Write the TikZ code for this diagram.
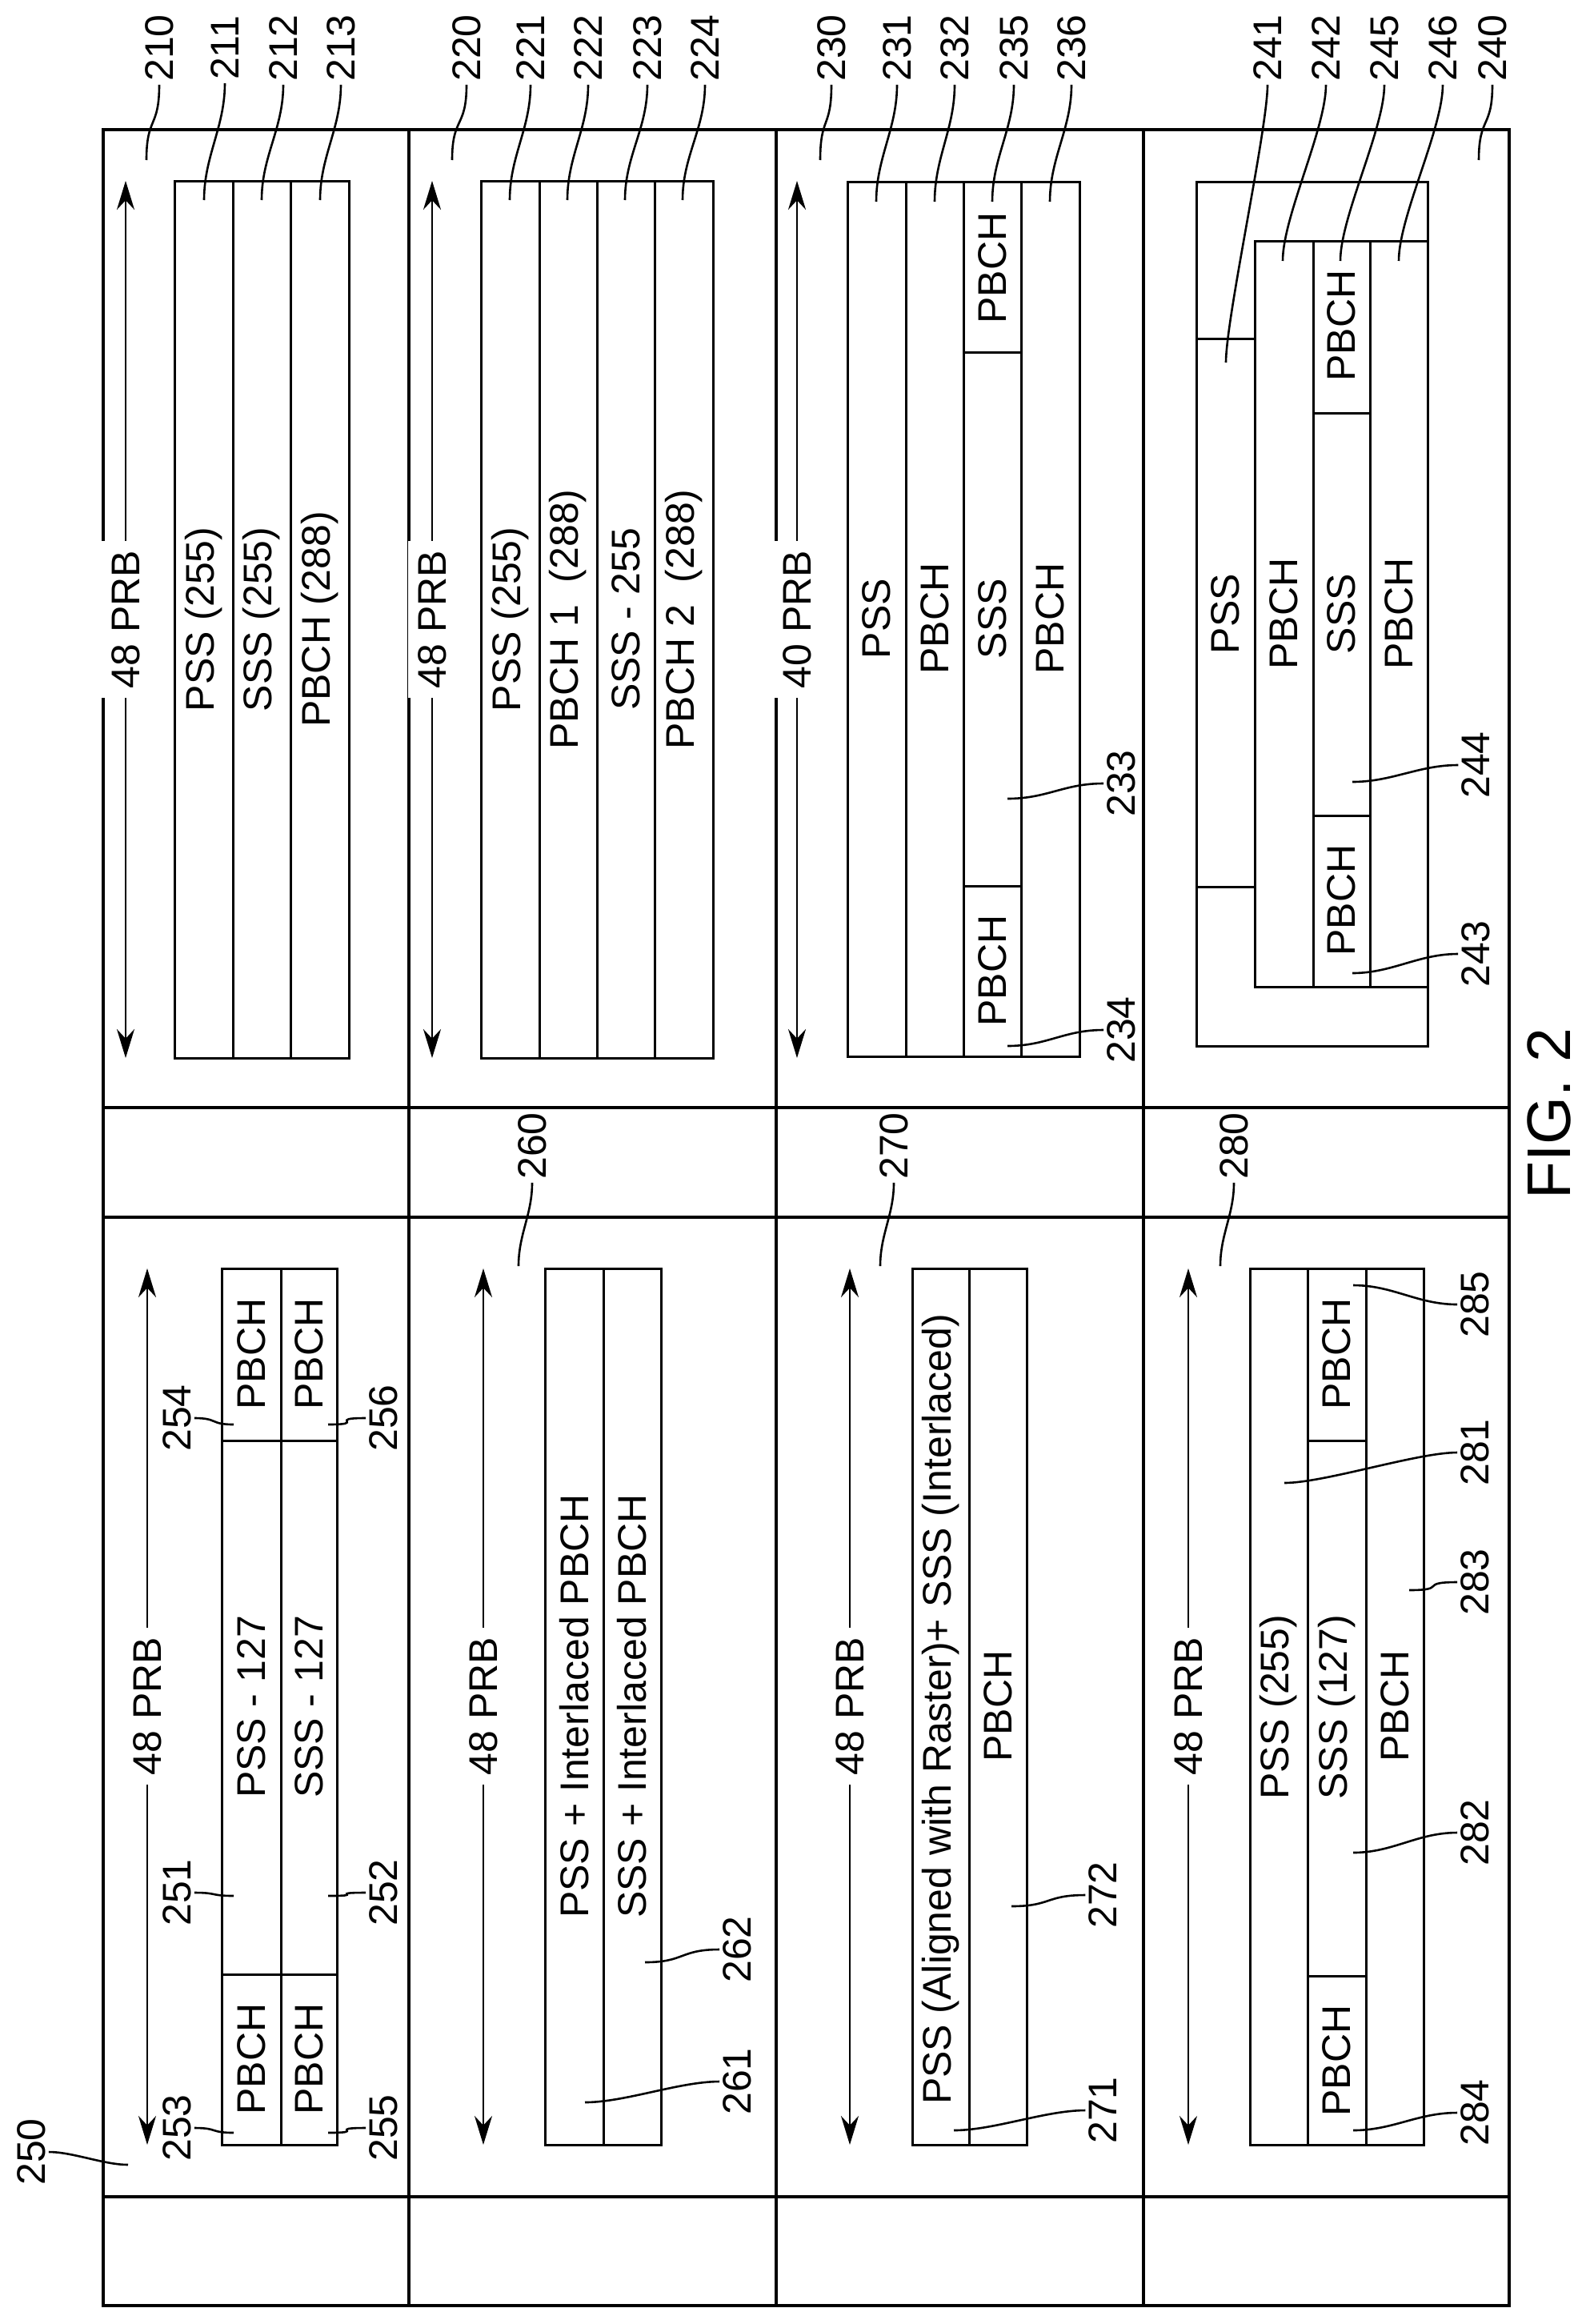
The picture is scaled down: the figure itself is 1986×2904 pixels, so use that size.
\documentclass[tikz,border=0pt]{standalone}
\usepackage{fontspec}
\setmainfont{Liberation Sans}
\usetikzlibrary{arrows.meta}

\begin{document}
\begin{tikzpicture}[x=1pt, y=-1pt,
		frame/.style={line width=4pt},
		cell/.style={line width=3pt},
		lead/.style={line width=2.6pt},
		prb/.style={line width=2.6pt, {Stealth[length=36pt,width=22pt]}-{Stealth[length=36pt,width=22pt]}},
		txt/.style={rotate=90, inner sep=1pt, font=\fontsize{50}{56}\selectfont},
		bw/.style={txt, fill=white, inner sep=12pt},
		num/.style={rotate=90, inner sep=4pt, font=\fontsize{50}{56}\selectfont}]
	\useasboundingbox (0,0) rectangle (1986,2904);

	% outer frame
	\draw[frame] (129,162) rectangle (1886,2881);
	\foreach \x in {511, 970, 1429}
		\draw[frame] (\x,162) -- (\x,2881);
	\foreach \y in {1384, 1521, 2745}
		\draw[frame] (129,\y) -- (1886,\y);

	% upper half: arrows
	\foreach \x/\w/\n in {157/48/a, 540/48/b, 996/40/c} {
		\draw[prb] (\x,1322) -- (\x,226);
		\node[bw] (prb\n) at (\x,774) {\w\ PRB};
	}

	% 210
	\draw[cell] (218,226) rectangle (436,1322);
	\draw[cell] (291,226) -- (291,1322) (363,226) -- (363,1322);
	\node[txt] (t211) at (254.5,774) {PSS (255)};
	\node[txt] (t212) at (327,774) {SSS (255)};
	\node[txt] (t213) at (399.5,774) {PBCH (288)};

	% 220
	\draw[cell] (601,226) rectangle (891,1322);
	\foreach \x in {674, 746, 818}
		\draw[cell] (\x,226) -- (\x,1322);
	\node[txt] (t221) at (637.5,774) {PSS (255)};
	\node[txt] (t222) at (710,774) {PBCH 1\ \ (288)};
	\node[txt] (t223) at (782,774) {SSS - 255};
	\node[txt] (t224) at (854.5,774) {PBCH 2\ \ (288)};

	% 230
	\draw[cell] (1059,227) rectangle (1349,1320);
	\foreach \x in {1132, 1204, 1276}
		\draw[cell] (\x,227) -- (\x,1320);
	\draw[cell] (1204,440) -- (1276,440) (1204,1107) -- (1276,1107);
	\node[txt] (t231) at (1095.5,773) {PSS};
	\node[txt] (t232) at (1168,773) {PBCH};
	\node[txt] (t233) at (1240,773) {SSS};
	\node[txt] (t236) at (1312,773) {PBCH};
	\node[txt] (t235) at (1240,335) {PBCH};
	\node[txt] (t234) at (1240,1213) {PBCH};

	% 240
	\draw[cell] (1495,227) rectangle (1784,1307);
	\draw[cell] (1568,301) rectangle (1784,1233);
	\draw[cell] (1641,301) -- (1641,1233) (1712,301) -- (1712,1233);
	\draw[cell] (1495,423) -- (1568,423) (1495,1108) -- (1568,1108);
	\draw[cell] (1641,516) -- (1712,516) (1641,1019) -- (1712,1019);
	\node[txt] (t241) at (1531.5,767) {PSS};
	\node[txt] (t242) at (1604.5,767) {PBCH};
	\node[txt] (t244) at (1676.5,767) {SSS};
	\node[txt] (t246) at (1748,767) {PBCH};
	\node[txt] (t245) at (1676.5,407) {PBCH};
	\node[txt] (t243) at (1676.5,1125) {PBCH};

	% lower half: arrows
	\foreach \x/\n in {184/a, 604/b, 1062/c, 1485/d} {
		\draw[prb] (\x,2680) -- (\x,1585);
		\node[bw] (prbl\n) at (\x,2132) {48 PRB};
	}

	% 250
	\draw[cell] (277,1585) rectangle (421,2680);
	\draw[cell] (351,1585) -- (351,2680);
	\draw[cell] (277,1800) -- (421,1800) (277,2467) -- (421,2467);
	\foreach \x in {314, 386} {
		\node[txt] at (\x,1692) {PBCH};
		\node[txt] at (\x,2573) {PBCH};
	}
	\node[txt] (t251) at (314,2133) {PSS - 127};
	\node[txt] (t252) at (386,2133) {SSS - 127};

	% 260
	\draw[cell] (681,1585) rectangle (826,2680);
	\draw[cell] (754,1585) -- (754,2680);
	\node[txt] (t261) at (717.5,2132) {PSS + Interlaced PBCH};
	\node[txt] (t262) at (790,2132) {SSS + Interlaced PBCH};

	% 270
	\draw[cell] (1140,1585) rectangle (1283,2680);
	\draw[cell] (1211,1585) -- (1211,2680);
	\node[txt] (t271) at (1175.5,2136) {PSS (Aligned with Raster)+ SSS (Interlaced)};
	\node[txt] (t272) at (1247,2132) {PBCH};

	% 280
	\draw[cell] (1562,1585) rectangle (1779,2680);
	\draw[cell] (1634,1585) -- (1634,2680) (1707,1585) -- (1707,2680);
	\draw[cell] (1634,1800) -- (1707,1800) (1634,2469) -- (1707,2469);
	\node[txt] (t281) at (1598,2133) {PSS (255)};
	\node[txt] (t282) at (1670.5,2133) {SSS (127)};
	\node[txt] (t283) at (1743,2132) {PBCH};
	\node[txt] (t285) at (1670.5,1692) {PBCH};
	\node[txt] (t284) at (1670.5,2575) {PBCH};

	% reference numerals along the top
	\foreach \n/\lx/\ex/\ey in {210/199/183/200, 211/281/255/250, 212/354/327/250,
			213/426/400/250, 220/583/565/200, 221/663/637/250, 222/735/709/250,
			223/809/781/250, 224/881/853/250, 230/1039/1025/200, 231/1121/1095/252,
			232/1193/1168/252, 235/1267/1240/252, 236/1339/1312/252, 241/1584/1532/453,
			242/1657/1603/326, 245/1730/1675/326, 246/1803/1748/326, 240/1865/1848/200} {
		\node[num] (l\n) at (\lx,60) {\n};
		\coordinate (e\n) at (\ex,\ey);
		\draw[lead] (l\n.west) .. controls +(0,55) and +(0,-55) .. (e\n);
	}

	% reference numerals in the middle band
	\foreach \n/\lx/\ex in {260/665/648, 270/1117/1100, 280/1542/1525} {
		\node[num] (l\n) at (\lx,1432) {\n};
		\coordinate (e\n) at (\ex,1582);
		\draw[lead] (l\n.west) .. controls +(0,40) and +(0,-40) .. (e\n);
	}

	% reference numerals to the right of their boxes
	\foreach \n/\lx/\ly/\ex/\ey in {233/1401/979/1259/998, 234/1401/1287/1259/1307,
			244/1844/956/1690/977, 243/1844/1192/1690/1216, 256/479/1772/410/1780,
			252/479/2365/410/2369, 255/479/2659/410/2665, 262/921/2436/806/2452,
			261/921/2601/731/2627, 285/1843/1630/1691/1606, 281/1843/1815/1605/1853,
			283/1843/1977/1761/1987, 272/1378/2368/1264/2382, 271/1378/2637/1192/2662,
			282/1843/2290/1691/2315, 284/1843/2640/1691/2662} {
		\node[num] (l\n) at (\lx,\ly) {\n};
		\coordinate (e\n) at (\ex,\ey);
		\draw[lead] (l\n.north) .. controls +(-50,0) and +(50,0) .. (e\n);
	}

	% reference numerals to the left of their boxes
	\foreach \n/\lx/\ly/\ex/\ey in {254/221/1772/292/1780, 251/221/2365/292/2369,
			253/221/2659/292/2665, 250/39/2689/160/2705} {
		\node[num] (l\n) at (\lx,\ly) {\n};
		\coordinate (e\n) at (\ex,\ey);
		\draw[lead] (l\n.south) .. controls +(30,0) and +(-30,0) .. (e\n);
	}

	\node[rotate=90, font=\fontsize{77}{84}\selectfont] (fig) at (1936,1392) {FIG. 2};
\end{tikzpicture}
\end{document}
